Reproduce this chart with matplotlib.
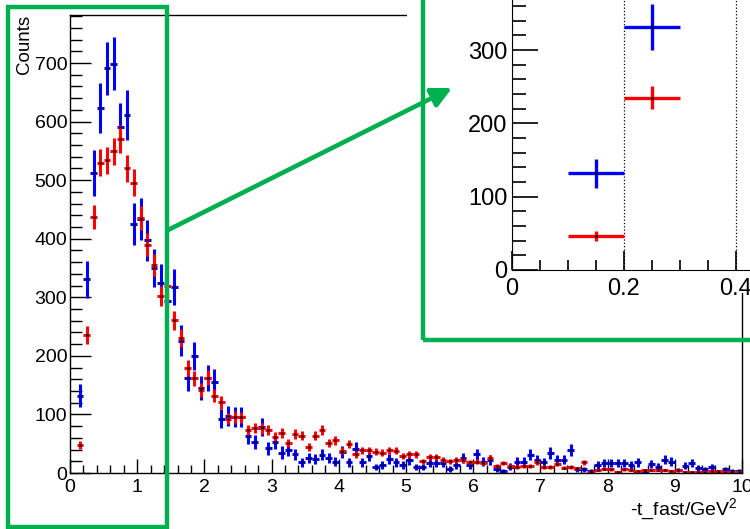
import numpy as np
import matplotlib
matplotlib.use("Agg")
import matplotlib.pyplot as plt
from matplotlib.patches import Rectangle, FancyArrowPatch
from matplotlib.ticker import MultipleLocator

plt.rcParams['font.family'] = ['Liberation Sans', 'DejaVu Sans']
plt.rcParams['mathtext.default'] = 'regular'

# histogram binning: 0.1 GeV^2 bins, first filled bin is 0.1-0.2
bin_width = 0.1
bin_edges = np.round(np.arange(0.1, 10.0 + 1e-9, bin_width), 2)
bin_centers = 0.5 * (bin_edges[:-1] + bin_edges[1:])

# counts per bin, 0.15 ... 9.95
blue_counts = [
    132, 331, 512, 623, 691, 699, 590, 611, 425, 434,
    397, 350, 325, 294, 317, 226, 162, 200, 145, 162,
    156, 93, 97, 96, 95, 64, 53, 79, 42, 53,
    35, 39, 32, 18, 25, 24, 31, 25, 19, 36,
    18, 41, 18, 29, 10, 14, 24, 18, 14, 22,
    10, 10, 17, 17, 17, 7, 14, 26, 14, 32,
    19, 22, 6, 3, 11, 19, 19, 31, 23, 18,
    34, 23, 23, 39, 6, 6, 3, 14, 17, 17,
    17, 17, 14, 18, 3, 15, 11, 23, 19, 5,
    12, 17, 8, 6, 10, 2, 6, 3, 3,
]
red_counts = [
    47, 235, 437, 530, 534, 549, 570, 520, 496, 435,
    390, 355, 302, 319, 261, 230, 179, 162, 142, 163,
    132, 121, 93, 96, 95, 74, 77, 76, 73, 62,
    68, 51, 67, 64, 45, 64, 73, 51, 56, 38,
    49, 32, 39, 39, 36, 35, 39, 38, 29, 32,
    32, 20, 28, 28, 22, 20, 22, 22, 18, 19,
    17, 26, 12, 17, 12, 11, 12, 12, 18, 10,
    10, 15, 9, 11, 8, 18, 2, 5, 7, 6,
    2, 6, 5, 3, 5, 5, 5, 5, 3, 5,
    2, 2, 2, 2, 3, 3, 2, 1, 1,
]
# event weights (error = sqrt(w * content))
blue_weight = 3.0
red_weight = 1.0

blue_counts = np.array(blue_counts, dtype=float)
red_counts = np.array(red_counts, dtype=float)
blue_err = np.sqrt(blue_weight * blue_counts)
red_err = np.sqrt(red_weight * red_counts)

W, H = 750, 529
green = '#00B050'


def fig_xy(x, y):
    """pixel position (from top-left) -> figure fraction"""
    return x / W, 1 - y / H


def draw_hists(ax, lw, ms):
    for counts, err, col in [(blue_counts, blue_err, 'blue'),
                             (red_counts, red_err, 'red')]:
        ax.errorbar(bin_centers, counts, xerr=bin_width / 2, yerr=err,
                    fmt='.', color='black', ms=ms, ecolor=col,
                    elinewidth=lw, capsize=0)


fig = plt.figure(figsize=(W / 100, H / 100), dpi=100)

# main pad
ax = fig.add_axes([70 / W, 1 - 473 / H, 672 / W, 458 / H])
draw_hists(ax, lw=2.2, ms=1.5)
ax.set_xlim(0, 10)
ax.set_ylim(0, 782)
ax.xaxis.set_major_locator(MultipleLocator(1))
ax.xaxis.set_minor_locator(MultipleLocator(0.2))
ax.yaxis.set_major_locator(MultipleLocator(100))
ax.yaxis.set_minor_locator(MultipleLocator(20))
ax.tick_params(which='both', direction='in', top=False, right=False,
               width=1, labelsize=14)
ax.tick_params(axis='y', which='major', length=15, pad=2)
ax.tick_params(axis='y', which='minor', length=8.5)
ax.tick_params(axis='x', which='major', length=10, pad=4)
ax.tick_params(axis='x', which='minor', length=5.5)
for sp in ax.spines.values():
    sp.set_linewidth(1)

fig.text(*fig_xy(24, 15), 'Counts', rotation=90, ha='center', va='top',
         fontsize=13.5)
fig.text(*fig_xy(738, 515), '-t_fast/GeV$^{2}$', ha='right',
         va='baseline', fontsize=14)

# zoomed view of the first bins
cover = Rectangle(fig_xy(407, 293), 1, 1, transform=fig.transFigure,
                  facecolor='white', edgecolor='none', zorder=4)
fig.add_artist(cover)

px_per_x = 560.0
px_per_y = 0.7333
left_px, bottom_px = 511.7, 270
ax_in = fig.add_axes([left_px / W, 1 - bottom_px / H,
                      (W - left_px) / W, bottom_px / H])
ax_in.set_zorder(5)
draw_hists(ax_in, lw=2.4, ms=2)
ax_in.set_xlim(0, (W - left_px) / px_per_x)
ax_in.set_ylim(0, bottom_px / px_per_y)
ax_in.set_xticks([0, 0.2, 0.4], ['0', '0.2', '0.4'])
ax_in.xaxis.set_minor_locator(MultipleLocator(0.05))
ax_in.yaxis.set_major_locator(MultipleLocator(100))
ax_in.yaxis.set_minor_locator(MultipleLocator(20))
ax_in.grid(axis='x', which='major', color='black', linestyle=':', lw=0.9)
ax_in.spines['top'].set_visible(False)
ax_in.spines['right'].set_visible(False)
ax_in.tick_params(which='both', direction='in', top=False, right=False,
                  width=1.2, labelsize=17)
ax_in.tick_params(axis='y', which='major', length=19, pad=3)
ax_in.tick_params(axis='y', which='minor', length=10)
ax_in.tick_params(axis='x', which='major', length=14, pad=6)
ax_in.tick_params(axis='x', which='minor', length=7)

# green highlight boxes and arrow
x0, y0 = fig_xy(7.5, 526.5)
fig.add_artist(Rectangle((x0, y0), (166.7 - 7.5) / W, (526.5 - 6.5) / H,
                         transform=fig.transFigure, fill=False,
                         edgecolor=green, lw=3.2, zorder=10))
x0, y0 = fig_xy(422.5, 340)
fig.add_artist(Rectangle((x0, y0), 1, 1, transform=fig.transFigure,
                         fill=False, edgecolor=green, lw=3.2, zorder=10))
fig.add_artist(FancyArrowPatch(fig_xy(168, 230), fig_xy(452, 88),
                               transform=fig.transFigure,
                               arrowstyle='-|>,head_length=0.6,head_width=0.3',
                               mutation_scale=20, lw=3.3, color=green,
                               shrinkA=0, shrinkB=0, zorder=10))

fig.savefig('out.png', dpi=100)
